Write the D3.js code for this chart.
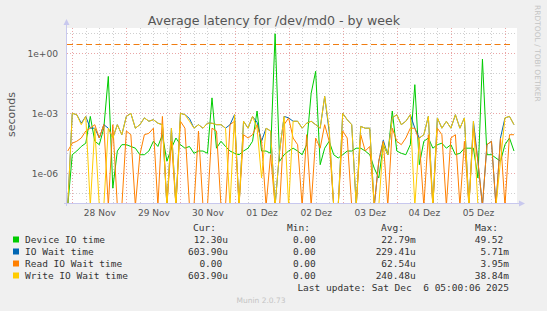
<!DOCTYPE html>
<html>
<head>
<meta charset="utf-8">
<script src="https://cdn.jsdelivr.net/npm/d3@7"></script>
<style>
  body { margin: 0; background: #f0f0f0; }
  svg text { white-space: pre; }
</style>
</head>
<body>
<div id="container"></div>
<script>
/* data: one value every 2 hours, in seconds (0 = no latency) */
const startTime = new Date(2025, 10, 27, 22, 0);
const stepHours = 2;

const deviceIO = [0, 8.5e-6, 1.3e-5, 2.2e-5, 3.2e-5, 7e-4, 4e-5, 2.7e-5, 1.8e-4, 7e-2,
  1.8e-7, 1.3e-5, 2.7e-5, 2.7e-5, 2.2e-5, 1.8e-5, 8.5e-6, 8.5e-6, 1.3e-5, 4e-5,
  2.2e-5, 8.5e-5, 4e-6, 1.8e-5, 5.8e-5, 2.7e-5, 1.8e-5, 2.2e-5, 1e-5, 1.3e-5,
  1.3e-5, 1e-5, 5.9e-3, 1.8e-5, 4e-5, 2.2e-5, 1.3e-5, 1e-5, 8.5e-6, 1.3e-5,
  1.8e-5, 4e-5, 1.3e-3, 1.3e-5, 1.3e-5, 1e-5, 9.5, 4e-6, 8.5e-6, 1.3e-5,
  1.8e-5, 1.3e-5, 8.5e-6, 2.7e-5, 1e-2, 0.126, 2.7e-6, 1.8e-5, 4e-5, 8.5e-6,
  5.8e-6, 8.5e-6, 1.3e-5, 1.3e-5, 1.8e-5, 1.8e-5, 1.3e-5, 8.5e-6, 1.8e-6, 5.8e-7,
  2.7e-5, 8.5e-6, 1.3e-3, 1.3e-5, 1e-5, 8.5e-6, 2.7e-5, 2.7e-2, 2.7e-6, 4e-5,
  5.8e-5, 1.8e-5, 2.7e-5, 3.2e-5, 1.8e-5, 2.7e-5, 8.5e-6, 1e-5, 1.8e-5, 1.8e-5,
  1.8e-5, 5.8e-7, 0.51, 8.5e-6, 8.5e-6, 5.8e-6, 4e-6, 2.7e-5, 5.8e-5, 1.3e-5];

const ioWait = [0, 1e-3, 8.5e-4, 3.2e-4, 7e-4, 1.8e-4, 1.8e-4, 5.8e-5, 2.7e-4, 1.8e-4,
  5.8e-5, 2.7e-4, 8.5e-5, 7e-4, 1e-3, 1.8e-4, 2.7e-4, 5.9e-4, 4e-4, 4.8e-4,
  3.2e-4, 2.7e-4, 0, 1.8e-4, 0, 1e-3, 8.5e-4, 5.5e-4, 1.8e-4, 2.7e-4,
  1.8e-4, 3.2e-4, 3.2e-4, 2.7e-4, 2.7e-4, 1.8e-4, 2.7e-4, 8.5e-4, 0, 4e-4,
  1.8e-4, 7e-4, 3.5e-4, 4e-5, 1.8e-4, 1.3e-4, 0, 1.3e-5, 7e-4, 5.9e-4,
  4e-4, 4e-4, 1.8e-4, 3.2e-4, 4e-4, 2.7e-4, 1.8e-4, 7e-3, 1.2e-4, 0,
  0, 1e-3, 4.8e-4, 2.7e-4, 0, 2.2e-4, 1.8e-4, 1.8e-4, 0, 4e-6,
  4.5e-5, 8.5e-6, 5.9e-4, 8.5e-4, 2.7e-4, 4e-4, 8.5e-4, 1.8e-4, 5.8e-5, 8.5e-5,
  7e-4, 0, 5.9e-4, 1.8e-4, 4e-4, 1.8e-4, 8.5e-4, 1.8e-4, 5.9e-4, 0,
  4e-4, 4e-6, 0, 2.7e-5, 4e-5, 0, 5.8e-5, 5.9e-4, 7e-4, 2.7e-4];

const readWait = [1.3e-5, 3.2e-5, 4e-5, 5.8e-5, 1.3e-4, 1.8e-4, 2.7e-4, 5.8e-5, 2.7e-4, 0,
  2.7e-4, 0, 0, 1.3e-4, 8.5e-5, 0, 8.5e-6, 8.5e-5, 1e-4, 1.8e-4,
  0, 7e-4, 0, 4e-5, 0, 4e-4, 1.8e-4, 0, 0, 1.3e-4,
  0, 0, 1.8e-4, 1.3e-4, 0, 0, 2.7e-4, 4e-4, 0, 8.5e-5,
  5.8e-5, 8.5e-5, 2.7e-4, 4e-5, 0, 8.5e-6, 0, 0, 2.7e-4, 5.9e-4,
  5.8e-5, 2.7e-5, 0, 8.5e-5, 0, 5.8e-5, 1.8e-5, 2.7e-4, 4e-5, 0,
  0, 1.3e-4, 5.8e-5, 0, 0, 8.5e-5, 1.3e-5, 2.2e-5, 0, 4e-6,
  4e-5, 0, 1.8e-4, 4e-5, 2.7e-5, 5.8e-5, 1.8e-4, 1.8e-4, 4e-5, 0,
  8.5e-5, 0, 1.8e-4, 8.5e-5, 0, 5.8e-5, 8.5e-5, 0, 4e-5, 0,
  1.8e-4, 4e-6, 0, 2.7e-5, 4e-5, 0, 5.8e-5, 0, 8.5e-5, 8.5e-5];

const writeWait = [0, 1e-3, 8.5e-4, 2.7e-4, 7e-4, 0, 1.8e-4, 0, 0, 1.8e-4,
  5.8e-5, 2.7e-4, 8.5e-5, 7e-4, 1e-3, 1.8e-4, 2.7e-4, 5.9e-4, 4e-4, 4.8e-4,
  3.2e-4, 2.7e-4, 0, 1.8e-4, 0, 1e-3, 8.5e-4, 4e-4, 1.8e-4, 2.7e-4,
  1.8e-4, 3.2e-4, 3.2e-4, 2.7e-4, 2.7e-4, 1.8e-4, 0, 8.5e-4, 0, 4e-4,
  1.8e-4, 7e-4, 1.8e-4, 5.8e-7, 1.8e-4, 1.3e-4, 0, 1.3e-5, 7e-4, 0,
  4e-4, 4e-4, 1.8e-4, 3.2e-4, 4e-4, 2.7e-4, 1.8e-4, 7e-3, 1.8e-4, 0,
  0, 1e-3, 4.8e-4, 2.7e-4, 0, 2.2e-4, 1.8e-4, 1.8e-4, 0, 0,
  3.2e-5, 8.5e-6, 5.9e-4, 8.5e-4, 2.7e-4, 4e-4, 8.5e-4, 0, 5.8e-5, 8.5e-5,
  7e-4, 0, 5.9e-4, 1.8e-4, 4e-4, 1.8e-4, 8.5e-4, 1.8e-4, 5.9e-4, 0,
  4e-4, 0, 0, 0, 0, 0, 4e-6, 5.9e-4, 7e-4, 2.7e-4];

const warnLevel = 3; /* the dashed orange rule */

const seriesNames = ["Device IO time", "IO Wait time", "Read IO Wait time", "Write IO Wait time"];
const seriesColors = ["#00cc00", "#0066b3", "#ff8000", "#ffcc00"];
const curValues = ["12.30u", "603.90u", "0.00 ", "603.90u"];
const minValues = ["0.00 ", "0.00 ", "0.00 ", "0.00 "];
const avgValues = ["22.79m", "229.41u", "62.54u", "240.48u"];
const maxValues = ["49.52 ", "5.71m", "3.95m", "38.84m"];

const dayLabels = ["28 Nov", "29 Nov", "30 Nov", "01 Dez", "02 Dez", "03 Dez", "04 Dez", "05 Dez"];
const yTickExps = [0, -3, -6];
const yTickLabels = ["1e+00", "1e-03", "1e-06"];

/* layout */
const width = 547, height = 311;
const plotLeft = 67, plotRight = 517, plotTop = 28, plotBottom = 203;
const monoFont = "'DejaVu Sans Mono', monospace";
const sansFont = "'DejaVu Sans', sans-serif";
const charW = 5.72;

const svg = d3.select("#container").append("svg")
  .attr("width", width).attr("height", height)
  .style("display", "block");

svg.append("rect").attr("width", width).attr("height", height).attr("fill", "#f0f0f0");
svg.append("rect").attr("x", plotLeft).attr("y", plotTop)
  .attr("width", plotRight - plotLeft).attr("height", plotBottom - plotTop).attr("fill", "#ffffff");

/* scales */
const xScale = d3.scaleTime()
  .domain([new Date(2025, 10, 27, 21, 40), new Date(2025, 11, 6, 5, 20)])
  .range([plotLeft, plotRight]);

const yScale = d3.scaleLog()
  .domain([Math.pow(10, -7.485), Math.pow(10, 1.265)])
  .range([plotBottom, plotTop]);

const times = writeWait.map((d, i) => d3.timeHour.offset(startTime, i * stepHours));

/* grid */
const grid = svg.append("g");
xScale.ticks(d3.timeHour.every(6)).forEach(t => {
  const major = t.getHours() === 0;
  grid.append("line")
    .attr("x1", Math.round(xScale(t)) + 0.5).attr("x2", Math.round(xScale(t)) + 0.5)
    .attr("y1", plotTop).attr("y2", plotBottom)
    .attr("stroke", major ? "#eaa6a6" : "#cfcfcf")
    .attr("stroke-dasharray", "1,2");
});
d3.range(-7, 2).forEach(e => {
  const major = e % 3 === 0;
  const yy = Math.round(yScale(Math.pow(10, e))) + 0.5;
  grid.append("line")
    .attr("x1", plotLeft).attr("x2", plotRight).attr("y1", yy).attr("y2", yy)
    .attr("stroke", major ? "#eaa6a6" : "#cfcfcf")
    .attr("stroke-dasharray", "1,2");
});

/* dashed rule */
const warnY = Math.round(yScale(warnLevel)) + 0.5;
svg.append("line")
  .attr("x1", plotLeft).attr("x2", plotRight - 4)
  .attr("y1", warnY).attr("y2", warnY)
  .attr("stroke", "#f07c10").attr("stroke-width", 1)
  .attr("stroke-dasharray", "6,3.5");

/* lines */
svg.append("clipPath").attr("id", "plot")
  .append("rect").attr("x", plotLeft).attr("y", plotTop - 2)
  .attr("width", plotRight - plotLeft).attr("height", plotBottom - plotTop + 2);

const line = d3.line()
  .x((d, i) => xScale(times[i]))
  .y(d => d > 0 ? yScale(d) : plotBottom + 3);

const lines = svg.append("g").attr("clip-path", "url(#plot)");
[deviceIO, ioWait, readWait, writeWait].forEach((s, k) => {
  lines.append("path")
    .datum(s)
    .attr("d", line)
    .attr("fill", "none")
    .attr("stroke", seriesColors[k])
    .attr("stroke-width", 1);
});

/* axes */
const axisColor = "#c8c8ee";
svg.append("line").attr("x1", plotLeft - 0.5).attr("x2", plotLeft - 0.5)
  .attr("y1", plotBottom + 3).attr("y2", plotTop - 4)
  .attr("stroke", axisColor);
svg.append("path").attr("d", `M${plotLeft - 3.5},${plotTop - 3} L${plotLeft + 2.5},${plotTop - 3} L${plotLeft - 0.5},${plotTop - 9} Z`)
  .attr("fill", axisColor);
svg.append("line").attr("x1", plotLeft - 3).attr("x2", plotRight + 3)
  .attr("y1", plotBottom + 0.5).attr("y2", plotBottom + 0.5)
  .attr("stroke", axisColor);
svg.append("path").attr("d", `M${plotRight + 2},${plotBottom - 2.5} L${plotRight + 2},${plotBottom + 3.5} L${plotRight + 8},${plotBottom + 0.5} Z`)
  .attr("fill", axisColor);

/* tick labels */
const noonTicks = dayLabels.map((d, i) => new Date(2025, 10, 28 + i, 12));
const xAxis = d3.axisBottom(xScale)
  .tickValues(noonTicks)
  .tickSize(0)
  .tickFormat((d, i) => dayLabels[i]);
svg.append("g")
  .attr("transform", `translate(0,${plotBottom + 4})`)
  .call(xAxis)
  .call(g => g.select(".domain").remove())
  .call(g => g.selectAll("text").attr("font-family", sansFont).attr("font-size", "9px").attr("fill", "#555"));

svg.append("g").selectAll("text")
  .data(yTickExps)
  .join("text")
  .attr("x", 58)
  .attr("y", d => yScale(Math.pow(10, d)) + 3.5)
  .attr("text-anchor", "end")
  .attr("font-family", sansFont).attr("font-size", "9.1px").attr("fill", "#555")
  .text((d, i) => yTickLabels[i]);

svg.append("text")
  .attr("transform", "translate(14.5,114.5) rotate(-90)")
  .attr("text-anchor", "middle")
  .attr("font-family", sansFont).attr("font-size", "11px").attr("fill", "#555")
  .text("seconds");

svg.append("text")
  .attr("x", 274).attr("y", 24.5)
  .attr("text-anchor", "middle")
  .attr("font-family", sansFont).attr("font-size", "12.6px").attr("fill", "#555")
  .text("Average latency for /dev/md0 - by week");

svg.append("text")
  .attr("transform", "translate(535,5) rotate(90)")
  .attr("font-family", sansFont).attr("font-size", "7.5px").attr("fill", "#c4c4c4")
  .text("RRDTOOL / TOBI OETIKER");

/* legend */
const legend = svg.append("g")
  .attr("font-family", monoFont).attr("font-size", "9.5px").attr("fill", "#333");

[["Cur:", 193], ["Min:", 287], ["Avg:", 381], ["Max:", 475]].forEach(h => {
  legend.append("text").attr("x", h[1]).attr("y", 231).text(h[0]);
});

seriesNames.forEach((name, i) => {
  const yy = 243 + i * 12;
  legend.append("rect").attr("x", 13).attr("y", yy - 6.5).attr("width", 6).attr("height", 6)
    .attr("fill", seriesColors[i]);
  legend.append("text").attr("x", 25).attr("y", yy).text(name);
  legend.append("text").attr("x", 228 + charW).attr("y", yy).attr("text-anchor", "end").text(curValues[i] + " ");
  legend.append("text").attr("x", 321.5 + charW).attr("y", yy).attr("text-anchor", "end").text(minValues[i] + " ");
  legend.append("text").attr("x", 415.7 + charW).attr("y", yy).attr("text-anchor", "end").text(avgValues[i] + " ");
  legend.append("text").attr("x", 509 + charW).attr("y", yy).attr("text-anchor", "end").text(maxValues[i] + " ");
});

legend.append("text").attr("x", 509).attr("y", 291).attr("text-anchor", "end")
  .text("Last update: Sat Dec  6 05:00:06 2025");

svg.append("text")
  .attr("x", 261).attr("y", 302.5)
  .attr("text-anchor", "middle")
  .attr("font-family", sansFont).attr("font-size", "7.5px").attr("fill", "#c4c4c4")
  .text("Munin 2.0.73");
</script>
</body>
</html>
